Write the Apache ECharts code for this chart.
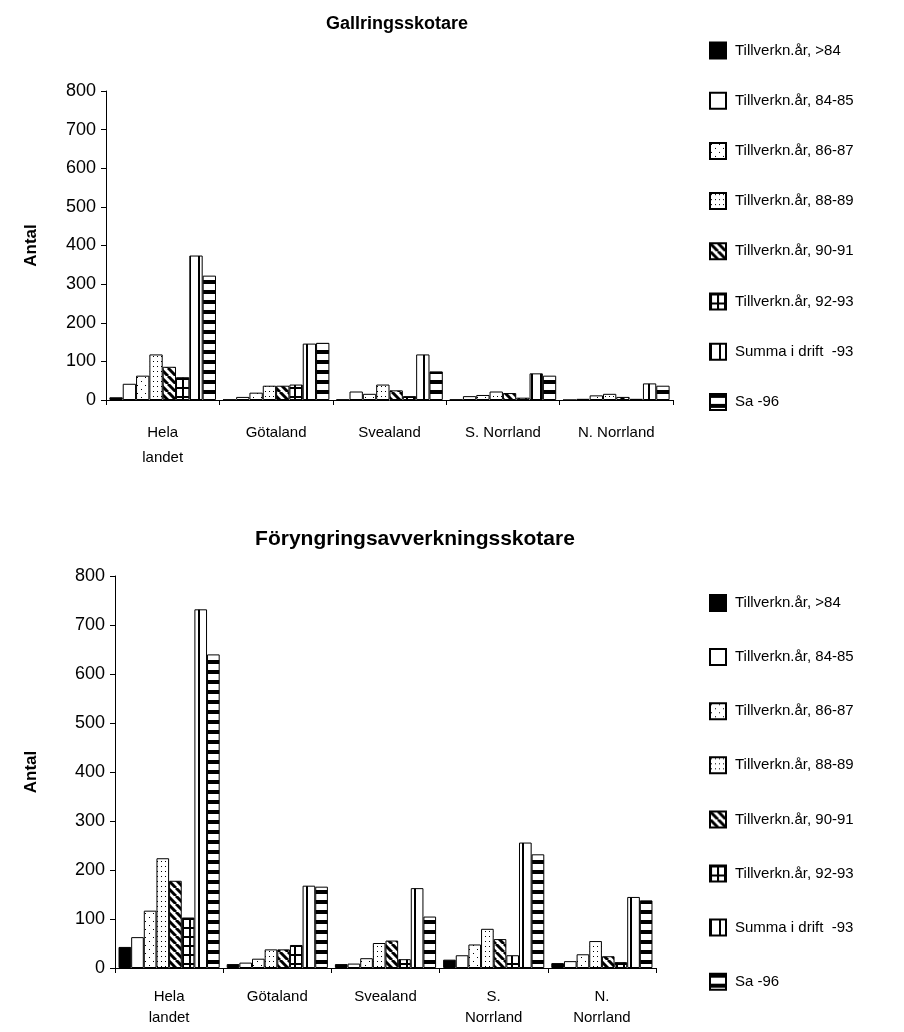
<!DOCTYPE html>
<html>
<head>
<meta charset="utf-8">
<script src="https://cdn.jsdelivr.net/npm/echarts@6/dist/echarts.min.js"></script>
<style>
  html, body { margin: 0; padding: 0; background: #fff; }
  #chart { width: 904px; height: 1032px; }
</style>
</head>
<body>
<div id="chart"></div>
<script>
// Series (legend) names, shared by both panels
const seriesNames = [
  'Tillverkn.år, >84',
  'Tillverkn.år, 84-85',
  'Tillverkn.år, 86-87',
  'Tillverkn.år, 88-89',
  'Tillverkn.år, 90-91',
  'Tillverkn.år, 92-93',
  'Summa i drift  -93',
  'Sa -96'
];

// Upper panel: Gallringsskotare
const gallCategories = ['Hela\nlandet', 'Götaland', 'Svealand', 'S. Norrland', 'N. Norrland'];
const gallHela      = [7, 42, 63, 118, 86, 59, 374, 322];
const gallGotaland  = [1, 8, 19, 37, 37, 40, 146, 148];
const gallSvealand  = [1, 22, 16, 40, 25, 10, 118, 74];
const gallSNorrland = [1, 10, 13, 22, 18, 6, 69, 63];
const gallNNorrland = [0, 3, 12, 16, 8, 3, 43, 37];

// Lower panel: Föryngringsavverkningsskotare
const foryCategories = ['Hela\nlandet', 'Götaland', 'Svealand', 'S.\nNorrland', 'N.\nNorrland'];
const foryHela      = [43, 63, 117, 224, 178, 103, 732, 640];
const foryGotaland  = [8, 11, 19, 38, 38, 47, 168, 166];
const forySvealand  = [8, 9, 20, 51, 56, 18, 163, 105];
const forySNorrland = [17, 26, 48, 80, 59, 26, 256, 232];
const foryNNorrland = [10, 14, 28, 55, 24, 12, 145, 138];

const yTicks = { min: 0, max: 800, interval: 100 };

// ---- fill patterns drawn on small tiles ----
function tile(w, h, draw) {
  const c = document.createElement('canvas');
  c.width = w; c.height = h;
  const g = c.getContext('2d');
  g.fillStyle = '#fff';
  g.fillRect(0, 0, w, h);
  g.fillStyle = '#000';
  g.strokeStyle = '#000';
  draw(g, w, h);
  return { image: c, repeat: 'repeat' };
}
const fills = [
  '#000',
  '#fff',
  tile(8, 8, g => { g.fillRect(1, 1, 1, 1); g.fillRect(5, 5, 1, 1); }),
  tile(4, 5, g => { g.fillRect(1, 1, 1, 1); }),
  tile(8, 8, g => {
    g.lineWidth = 3;
    for (let k = -16; k <= 16; k += 8) {
      g.beginPath(); g.moveTo(k, 0); g.lineTo(k + 8, 8); g.stroke();
    }
  }),
  tile(7, 9, g => { g.fillRect(0, 0, 7, 2); g.fillRect(0, 0, 2, 9); }),
  tile(9, 1, g => { g.fillRect(0, 0, 2, 1); }),
  tile(1, 10, g => { g.fillRect(0, 0, 1, 4); })
];

function buildSeries(rows, axisIndex) {
  return seriesNames.map((name, i) => ({
    name: name,
    type: 'bar',
    xAxisIndex: axisIndex,
    yAxisIndex: axisIndex,
    barGap: '0%',
    barCategoryGap: axisIndex === 0 ? '6%' : '6.5%',
    data: rows.map(r => r[i]),
    itemStyle: { color: fills[i], borderColor: '#000', borderWidth: 1 },
    emphasis: { disabled: true },
    animation: false
  }));
}

const font = '"Liberation Sans", Arial, sans-serif';

function yAxis(gridIndex, gap) {
  return {
    type: 'value', gridIndex: gridIndex,
    min: yTicks.min, max: yTicks.max, interval: yTicks.interval,
    name: 'Antal', nameLocation: 'middle', nameGap: gap, nameRotate: 90,
    nameTextStyle: { fontFamily: font, fontSize: 17, fontWeight: 'bold', color: '#000' },
    axisLine: { show: true, lineStyle: { color: '#000', width: 1 } },
    axisTick: { show: true, length: 5, lineStyle: { color: '#000' } },
    axisLabel: { fontFamily: font, fontSize: 18, color: '#000', margin: 10 },
    splitLine: { show: false }
  };
}
function xAxis(gridIndex, cats, margin, lineHeight) {
  return {
    type: 'category', gridIndex: gridIndex, data: cats,
    axisLine: { lineStyle: { color: '#000', width: 1 } },
    axisTick: { show: true, length: 5, lineStyle: { color: '#000' } },
    axisLabel: { fontFamily: font, fontSize: 15, color: '#000', margin: margin, lineHeight: lineHeight }
  };
}
function legend(top, gap) {
  return {
    orient: 'vertical', left: 704, top: top,
    itemWidth: 16, itemHeight: 16, itemGap: gap,
    icon: 'rect',
    data: seriesNames,
    selectedMode: false,
    textStyle: { fontFamily: font, fontSize: 15, lineHeight: 16, color: '#000', padding: [0, 0, 0, 4] }
  };
}

const chart = echarts.init(document.getElementById('chart'), null, { renderer: 'canvas' });
chart.setOption({
  backgroundColor: '#fff',
  animation: false,
  title: [
    { text: 'Gallringsskotare', left: 392, top: 10, textAlign: 'center',
      textStyle: { fontFamily: font, fontSize: 18, fontWeight: 'bold', color: '#000' } },
    { text: 'Föryngringsavverkningsskotare', left: 410, top: 524, textAlign: 'center',
      textStyle: { fontFamily: font, fontSize: 21, fontWeight: 'bold', color: '#000' } }
  ],
  legend: [legend(36.5, 32.2), legend(589, 36.1)],
  grid: [
    { left: 106, top: 91, width: 567, height: 309 },
    { left: 115, top: 576, width: 541, height: 392 }
  ],
  xAxis: [xAxis(0, gallCategories, 20, 25), xAxis(1, foryCategories, 18, 21)],
  yAxis: [yAxis(0, 66), yAxis(1, 75)],
  series: [
    ...buildSeries([gallHela, gallGotaland, gallSvealand, gallSNorrland, gallNNorrland], 0),
    ...buildSeries([foryHela, foryGotaland, forySvealand, forySNorrland, foryNNorrland], 1)
  ]
});
</script>
</body>
</html>
